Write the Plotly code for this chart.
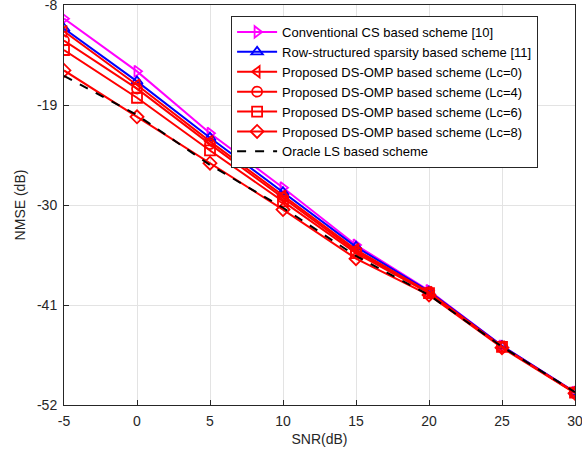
import plotly.graph_objects as go

snr = [-5, 0, 5, 10, 15, 20, 25, 30]

conv_cs = [-9.5, -15.3, -22.1, -28.1, -34.4, -39.4, -45.5, -50.6]
row_struct = [-10.6, -16.4, -22.6, -28.6, -34.6, -39.5, -45.5, -50.6]
dsomp_lc0 = [-10.9, -16.8, -23.0, -29.0, -34.9, -39.6, -45.6, -50.65]
dsomp_lc4 = [-11.9, -17.2, -23.3, -29.2, -35.1, -39.6, -45.6, -50.65]
dsomp_lc6 = [-12.95, -18.2, -24.0, -29.6, -35.3, -39.7, -45.6, -50.65]
dsomp_lc8 = [-15.2, -20.3, -25.4, -30.5, -35.9, -39.9, -45.7, -50.7]
oracle_ls = [-15.8, -20.1, -25.6, -30.3, -35.6, -39.9, -45.6, -50.6]

names = [
    "Conventional CS based scheme [10]",
    "Row-structured sparsity based scheme [11]",
    "Proposed DS-OMP based scheme (Lc=0)",
    "Proposed DS-OMP based scheme (Lc=4)",
    "Proposed DS-OMP based scheme (Lc=6)",
    "Proposed DS-OMP based scheme (Lc=8)",
    "Oracle LS based scheme",
]
series = [conv_cs, row_struct, dsomp_lc0, dsomp_lc4, dsomp_lc6, dsomp_lc8, oracle_ls]
colors = ["#ff00ff", "#0000ff", "#ff0000", "#ff0000", "#ff0000", "#ff0000", "#000000"]
symbols = ["triangle-right-open", "triangle-up-open", "triangle-left-open",
           "circle-open", "square-open", "diamond-open", None]

y_ticks = [-52, -41, -30, -19, -8]
y_ticktext = ["-52", "-41", "-30", "-19", "-8"]
x_ticks = [-5, 0, 5, 10, 15, 20, 25, 30]
x_ticktext = ["-5", "0", "5", "10", "15", "20", "25", "30"]

fig = go.Figure()
for name, ys, c, s in zip(names, series, colors, symbols):
    if s is None:
        fig.add_trace(go.Scatter(x=snr, y=ys, name=name, mode="lines",
                                 line=dict(color=c, width=2, dash="dash")))
    else:
        fig.add_trace(go.Scatter(x=snr, y=ys, name=name, mode="lines+markers",
                                 line=dict(color=c, width=2),
                                 marker=dict(symbol=s, size=10, color=c,
                                             line=dict(color=c, width=1.8))))

axis_common = dict(showgrid=True, gridcolor="#e3e3e3", gridwidth=1,
                   showline=True, linecolor="#262626", linewidth=1, mirror=True,
                   ticks="inside", ticklen=5, tickcolor="#262626",
                   zeroline=False, ticklabeloverflow="allow", automargin=False,
                   tickfont=dict(family="Arial", size=14, color="#262626"))

fig.update_xaxes(range=[-5.0001, 30.0001], tickvals=x_ticks, ticktext=x_ticktext,
                 ticklabelstandoff=3,
                 title=dict(text="SNR(dB)", font=dict(family="Arial", size=14, color="#262626"), standoff=6),
                 **axis_common)
fig.update_yaxes(range=[-52.001, -7.999], tickvals=y_ticks, ticktext=y_ticktext,
                 ticklabelstandoff=3,
                 title=dict(text="NMSE (dB)", font=dict(family="Arial", size=14, color="#262626"), standoff=8),
                 **axis_common)

fig.update_layout(
    width=582, height=464,
    margin=dict(l=64, r=7, t=5, b=59, autoexpand=False),
    plot_bgcolor="white", paper_bgcolor="white",
    font=dict(family="Arial", color="#262626"),
    legend=dict(x=0.327, y=0.9725, xanchor="left", yanchor="top",
                bgcolor="white", bordercolor="#262626", borderwidth=1,
                font=dict(family="Arial", size=13, color="#000000"),
                tracegroupgap=0, itemwidth=40),
    showlegend=True,
)

fig.write_html("out.html")
